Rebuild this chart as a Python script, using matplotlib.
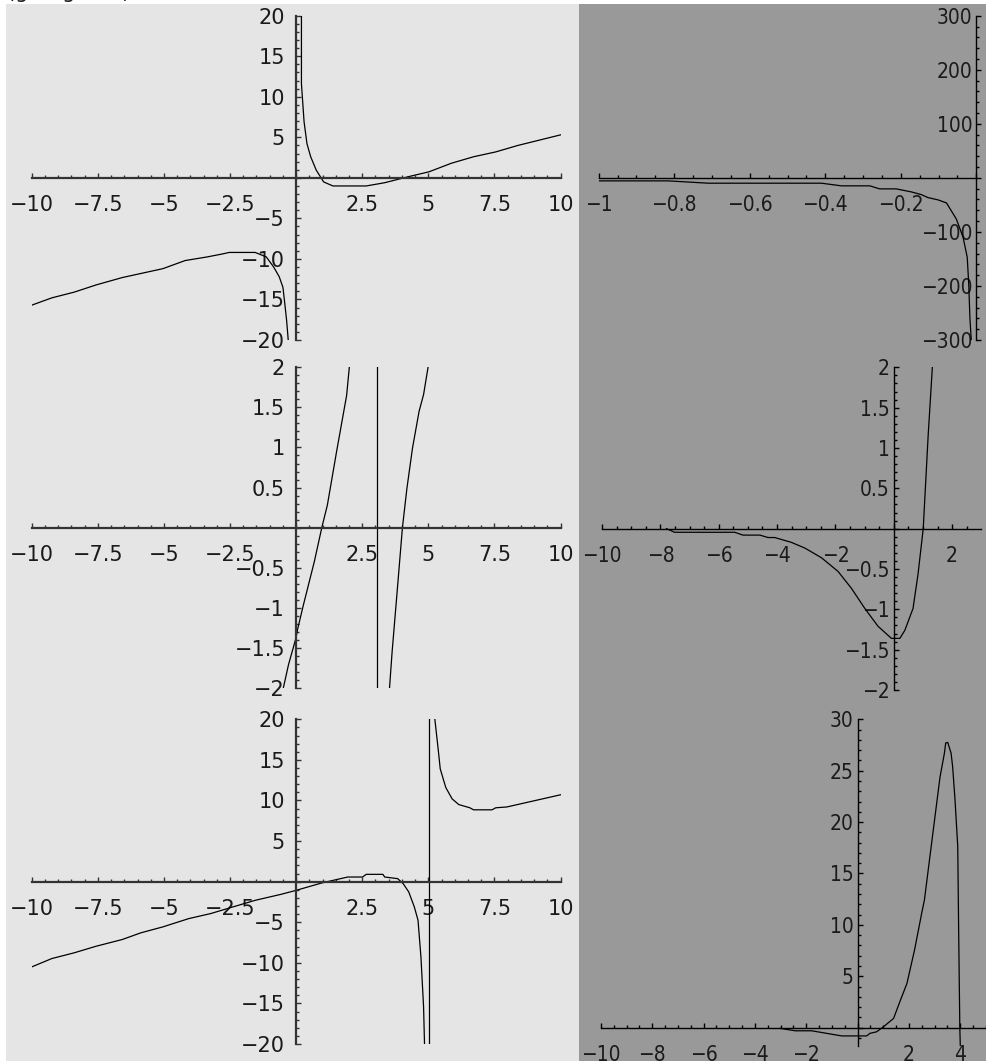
import matplotlib
matplotlib.use("Agg")
import matplotlib.pyplot as plt
from matplotlib.patches import Rectangle
from matplotlib.ticker import MultipleLocator, FuncFormatter

W, H = 986, 1061

# panel 1 (top left)
p1_left_x = [-10, -9.24, -8.40, -7.56, -6.58, -5.04, -4.20, -3.36, -2.81, -2.53, -1.55, -1.13, -0.85, -0.64, -0.50, -0.43, -0.36, -0.29]
p1_left_y = [-15.7, -14.8, -14.1, -13.2, -12.3, -11.2, -10.2, -9.75, -9.4, -9.2, -9.2, -9.75, -11.0, -12.2, -13.5, -15.5, -17.6, -20.4]
p1_right_x = [0.20, 0.20, 0.30, 0.41, 0.55, 0.76, 1.04, 1.39, 2.65, 3.35, 4.19, 5.03, 5.87, 6.71, 7.55, 8.39, 10]
p1_right_y = [20.5, 11.6, 6.9, 4.2, 2.6, 0.95, -0.5, -1.0, -1.0, -0.6, 0.1, 0.75, 1.8, 2.6, 3.2, 4.0, 5.3]

# panel 2 (top right)
p2_x = [-1.0, -0.816, -0.71, -0.41, -0.357, -0.282, -0.256, -0.212, -0.172, -0.146, -0.128, -0.101, -0.079, -0.053, -0.035, -0.024, -0.020, -0.017, -0.013]
p2_y = [-5.6, -5.6, -9.9, -9.9, -14.8, -14.8, -20.4, -20.4, -26.0, -30.9, -36.5, -40.8, -46.4, -76, -110, -147, -197, -258, -305]

# panel 3 (middle left)
p3_a_x = [-0.62, -0.29, -0.01, 0.06, 0.27, 0.69, 0.97, 1.18, 1.53, 1.91, 2.04]
p3_a_y = [-2.2, -1.71, -1.38, -1.26, -0.97, -0.42, 0.0, 0.28, 0.95, 1.65, 2.1]
p3_pole_x = [3.04, 3.04]
p3_pole_y = [2.2, -2.2]
p3_b_x = [3.51, 3.63, 3.84, 4.02, 4.19, 4.40, 4.65, 4.82, 5.04]
p3_b_y = [-2.1, -1.55, -0.72, 0.0, 0.49, 0.99, 1.45, 1.66, 2.1]

# panel 4 (middle right)
p4_x = [-7.79, -7.51, -5.45, -5.17, -4.59, -4.31, -4.08, -3.51, -3.05, -2.48, -1.91, -1.45, -0.99, -0.54, -0.08, 0.21, 0.38, 0.66, 0.83, 1.01, 1.18, 1.34]
p4_y = [0.0, -0.045, -0.045, -0.08, -0.08, -0.11, -0.11, -0.17, -0.24, -0.36, -0.53, -0.74, -0.99, -1.21, -1.36, -1.36, -1.26, -0.99, -0.57, 0.0, 1.16, 2.1]

# panel 5 (bottom left)
p5_a_x = [-10, -9.24, -8.40, -7.56, -6.58, -5.88, -5.04, -4.06, -3.23, -2.39, -1.55, -0.57, 0, 0.97, 1.95, 2.51, 2.65, 3.28, 3.35, 3.84, 4.05, 4.26, 4.47, 4.61, 4.72, 4.82, 4.86]
p5_a_y = [-10.5, -9.47, -8.77, -7.95, -7.13, -6.31, -5.57, -4.55, -3.93, -3.11, -2.30, -1.56, -1.07, -0.16, 0.57, 0.57, 0.9, 0.9, 0.57, 0.37, -0.25, -1.27, -3.11, -4.75, -9.26, -15.4, -20.5]
p5_pole_x = [5.03, 5.03]
p5_pole_y = [20.5, -20.5]
p5_b_x = [5.23, 5.38, 5.45, 5.66, 5.90, 6.15, 6.57, 6.71, 7.41, 7.55, 7.97, 10]
p5_b_y = [20.5, 16.1, 13.9, 11.6, 10.2, 9.5, 9.1, 8.85, 8.85, 9.1, 9.2, 10.7]

# panel 6 (bottom right)
p6_x = [-3.01, -2.43, -1.79, -0.62, 0.35, 0.48, 0.74, 1.01, 1.40, 1.64, 1.92, 2.22, 2.50, 2.60, 2.95, 3.21, 3.38, 3.43, 3.51, 3.64, 3.70, 3.79, 3.90, 3.93, 3.98, 4.0]
p6_y = [-0.07, -0.3, -0.3, -0.8, -0.8, -0.55, -0.4, 0.1, 0.9, 2.5, 4.3, 7.6, 11.2, 12.4, 19.3, 24.4, 26.7, 27.7, 27.75, 26.7, 25.4, 22.3, 17.6, 10.5, 0, -1.9]


def fmt(v, pos):
    if abs(v) < 1e-9:
        return ''
    return ('%g' % round(v, 6)).replace('-', '\u2212')


def panel(px, xlim, ylim, xmaj, xmin, ymaj, ymin, right_col=False):
    l, r, t, b = px
    ax = fig.add_axes([l / W, 1 - b / H, (r - l) / W, (b - t) / H])
    ax.set_xlim(*xlim)
    ax.set_ylim(*ylim)
    ax.patch.set_visible(False)
    for s in ['top', 'right']:
        ax.spines[s].set_visible(False)
    lw = 1.0 if right_col else 1.6
    col = 'black' if right_col else '#333333'
    for s in ['left', 'bottom']:
        ax.spines[s].set_position(('data', 0))
        ax.spines[s].set_linewidth(lw)
        ax.spines[s].set_color(col)
    ax.xaxis.set_major_locator(MultipleLocator(xmaj))
    ax.xaxis.set_minor_locator(MultipleLocator(xmin))
    ax.yaxis.set_major_locator(MultipleLocator(ymaj))
    ax.yaxis.set_minor_locator(MultipleLocator(ymin))
    ax.xaxis.set_major_formatter(FuncFormatter(fmt))
    ax.yaxis.set_major_formatter(FuncFormatter(fmt))
    ypad = 3 if right_col else 8
    ax.tick_params(which='both', direction='in', color=col, width=1.0)
    ax.tick_params(which='major', length=3.5)
    ax.tick_params(which='minor', length=2)
    ax.tick_params(axis='x', which='major', pad=12.5)
    ax.tick_params(axis='y', which='major', pad=ypad)
    for lab in ax.get_xticklabels() + ax.get_yticklabels():
        lab.set_fontsize(15)
        lab.set_family('DejaVu Sans')
        if right_col:
            lab.set_stretch('condensed')
        lab.set_color('#1a1a1a')
    return ax


fig = plt.figure(figsize=(W / 100, H / 100), dpi=100)
fig.patches.append(Rectangle((6 / W, 0), (579 - 6) / W, (H - 4) / H, transform=fig.transFigure,
                             facecolor='#e5e5e5', edgecolor='none', zorder=-5))
fig.patches.append(Rectangle((579 / W, 0), (W - 579) / W, (H - 4) / H, transform=fig.transFigure,
                             facecolor='#999999', edgecolor='none', zorder=-5))
fig.text(7 / W, 1 + 2 / H, '(g\u2218f, g\u2218h\u2218f)', fontsize=15, va='baseline', ha='left', color='#222222')

ax1 = panel((31.8, 560.5, 15.7, 340), (-10, 10), (-20, 20), 2.5, 0.5, 5, 1)
ax1.plot(p1_left_x, p1_left_y, color='black', lw=0.9)
ax1.plot(p1_right_x, p1_right_y, color='black', lw=0.9)

ax2 = panel((598.7, 976.3, 15.7, 340), (-1, 0), (-300, 300), 0.2, 0.05, 100, 20, right_col=True)
ax2.plot(p2_x, p2_y, color='black', lw=0.9)

ax3 = panel((31.8, 560.5, 367.3, 688), (-10, 10), (-2, 2), 2.5, 0.5, 0.5, 0.1)
ax3.plot(p3_a_x, p3_a_y, color='black', lw=0.9)
ax3.plot(p3_pole_x, p3_pole_y, color='black', lw=0.9)
ax3.plot(p3_b_x, p3_b_y, color='black', lw=0.9)

ax4 = panel((602, 980.7, 367.3, 690), (-10, 2.98), (-2, 2), 2, 0.5, 0.5, 0.1, right_col=True)
ax4.plot(p4_x, p4_y, color='black', lw=0.9)

ax5 = panel((31.8, 560.5, 719.3, 1044), (-10, 10), (-20, 20), 2.5, 0.5, 5, 1)
ax5.plot(p5_a_x, p5_a_y, color='black', lw=0.9)
ax5.plot(p5_pole_x, p5_pole_y, color='black', lw=0.9)
ax5.plot(p5_b_x, p5_b_y, color='black', lw=0.9)

ax6 = panel((600.9, 986, 719.3, 1046.2), (-10, 5), (-1.8, 30), 2, 0.5, 5, 1, right_col=True)
ax6.plot(p6_x, p6_y, color='black', lw=0.9)

fig.savefig('out.png', dpi=100)
